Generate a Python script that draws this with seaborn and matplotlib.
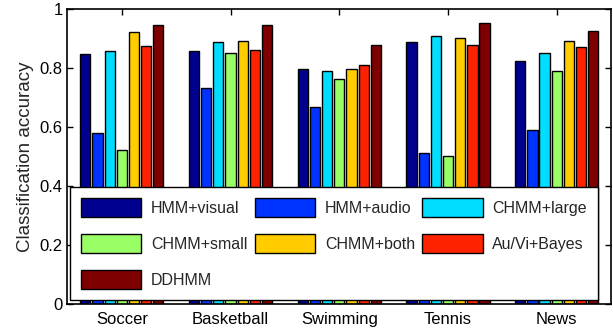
import matplotlib
matplotlib.use("Agg")
import matplotlib.pyplot as plt
import pandas as pd
import seaborn as sns

# values
sports = ["Soccer", "Basketball", "Swimming", "Tennis", "News"]
methods = ["HMM+visual", "HMM+audio", "CHMM+large", "CHMM+small",
           "CHMM+both", "Au/Vi+Bayes", "DDHMM"]
hmm_visual = [0.850, 0.860, 0.796, 0.890, 0.823]
hmm_audio = [0.582, 0.732, 0.668, 0.514, 0.590]
chmm_large = [0.860, 0.890, 0.792, 0.910, 0.853]
chmm_small = [0.522, 0.853, 0.762, 0.501, 0.792]
chmm_both = [0.924, 0.894, 0.796, 0.901, 0.894]
au_vi_bayes = [0.875, 0.863, 0.810, 0.879, 0.871]
ddhmm = [0.947, 0.947, 0.879, 0.954, 0.928]
ytick_labels = ["0", "0.2", "0.4", "0.6", "0.8", "1"]

series = [hmm_visual, hmm_audio, chmm_large, chmm_small, chmm_both, au_vi_bayes, ddhmm]
rows = []
for m, vals in zip(methods, series):
    for s, v in zip(sports, vals):
        rows.append({"sport": s, "method": m, "acc": v})
df = pd.DataFrame(rows)

colors = ["#00008F", "#0033FF", "#00DDFF", "#99FF66", "#FFCC00", "#FF2200", "#7F0000"]

sns.set_theme(style="white")
plt.rcParams["font.family"] = ["Liberation Sans", "DejaVu Sans"]

fig = plt.figure(figsize=(6.13, 3.33), dpi=100)
ax = fig.add_axes([0.110, 0.087, 0.887, 0.885])

sns.barplot(data=df, x="sport", y="acc", hue="method", order=sports,
            hue_order=methods, palette=colors, saturation=1, width=0.784,
            gap=0.16, edgecolor="black", linewidth=1.0, ax=ax)

ax.set_ylim(0, 1)
ax.set_xlim(-0.5, 4.5)
ax.set_yticks([0, 0.2, 0.4, 0.6, 0.8, 1.0])
ax.set_yticklabels(ytick_labels)
ax.set_xlabel("")
ax.set_ylabel("Classification accuracy", fontsize=13.5, labelpad=4)
ax.tick_params(axis="both", direction="in", length=4, width=1, color="black",
               labelsize=12, top=True, right=True, bottom=True, left=True,
               labelcolor="black")
ax.tick_params(axis="x", pad=6)
for sp in ax.spines.values():
    sp.set_color("black")
    sp.set_linewidth(1.2)

# legend filled column-wise, so reorder to read row-wise like the reference
handles, labels = ax.get_legend_handles_labels()
order = [0, 3, 6, 1, 4, 2, 5]
leg = ax.legend([handles[i] for i in order], [labels[i] for i in order],
                ncol=3, loc="lower left", mode="expand",
                bbox_to_anchor=(0.004, 0.0136, 0.972, 0.378),
                borderaxespad=0, fontsize=11.5, handlelength=3.8,
                handleheight=1.4, handletextpad=0.6, labelspacing=1.1,
                columnspacing=1.0, fancybox=False, framealpha=1,
                borderpad=0.7)
leg.get_frame().set_edgecolor("black")
leg.get_frame().set_linewidth(1.0)

fig.savefig("out.png", dpi=100)
